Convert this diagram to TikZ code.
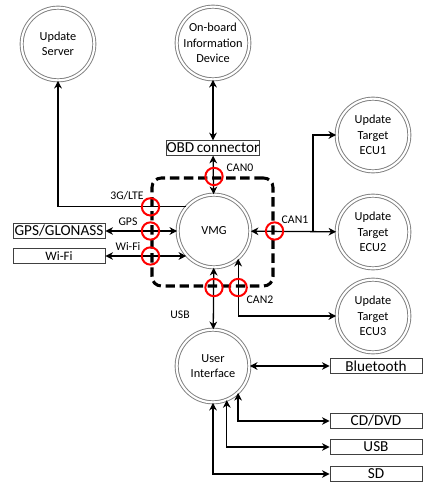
\documentclass[tikz,border=0pt]{standalone}
\usepackage{fontspec}
\setmainfont{Carlito}
\usetikzlibrary{arrows.meta,positioning,calc}
\definecolor{Ring}{HTML}{7F7F7F}
\definecolor{Tap}{HTML}{FF0000}

\begin{document}
\begin{tikzpicture}[x=0.03cm,y=-0.03cm,
  unit/.style={circle,draw=Ring,double=white,double distance=1.8pt,line width=0.8pt,
    minimum size=2.18cm,inner sep=0pt,align=center,font=\fontsize{10.5}{13}\selectfont},
  port/.style={draw=black!75,line width=0.6pt,minimum width=2.76cm,minimum height=0.44cm,
    inner sep=0pt,font=\fontsize{13}{14}\selectfont},
  gate/.style={draw,line width=2.6pt,dash pattern=on 8pt off 4pt,rounded corners=8pt,
    minimum width=3.63cm,minimum height=3.24cm},
  tap/.style={circle,draw=Tap,line width=1.7pt,minimum size=0.52cm,inner sep=0pt},
  lbl/.style={inner sep=1pt,font=\fontsize{10}{11}\selectfont},
  link/.style={line width=1.1pt,>={Stealth[length=6.5pt,width=6.5pt,inset=2pt]}}]
  \useasboundingbox (0,0) rectangle (423,483);

  \node[gate] (gw) at (212.5,232) {};

  \node[unit] (server) at (58,44) {Update\\Server};
  \node[unit] (device) at (213,43) {On-board\\Information\\Device};
  \node[unit] (vmg) at (214,231) {VMG};
  \node[unit] (ecu1) at (373,135) {Update\\Target\\ECU1};
  \node[unit] (ecu2) at (373,232) {Update\\Target\\ECU2};
  \node[unit] (ecu3) at (373,316) {Update\\Target\\ECU3};
  \node[unit] (ui) at (213,366) {User\\Interface};

  \node[port,minimum width=2.8cm] (obd) at (213,148) {OBD\,connector};
  \node[port] (gps) at (59,231) {GPS/GLONASS};
  \node[port,font=\fontsize{11}{12}\selectfont] (wifi) at (59,256) {Wi-Fi};
  \node[port] (bt) at (376,366) {Bluetooth};
  \node[port] (cd) at (376,421) {CD/DVD};
  \node[port] (usb) at (376,447) {USB};
  \node[port] (sd) at (376,474) {SD};

  \coordinate (j1) at (313,232);

  \draw[link,<->] (device) -- (obd);
  \draw[link,<->] (obd) -- (vmg);
  \draw[link,->] (vmg.139) -| (server);
  \draw[link,<->] (gps) -- (vmg);
  \draw[link,<->] (wifi.east) -- (wifi.east -| vmg.221);
  \draw[link,<->] (vmg) -- (ecu2);
  \draw[link,->] (j1) |- (ecu1);
  \draw[link,<->] (vmg.311) |- (ecu3);
  \draw[link,<->] (vmg) -- (ui);
  \draw[link,<->] (ui) -- (bt);
  \draw[link,<->] (ui.313) |- (cd);
  \draw[link,<->] (ui.292) |- (usb);
  \draw[link,<->] (ui.south) |- (sd);

  \node[tap] (t0) at (vmg.north |- gw.north) {};
  \node[tap] (t1) at (gw.west |- vmg.139) {};
  \node[tap] (t2) at (gw.west |- vmg.west) {};
  \node[tap] (t3) at (gw.west |- wifi.east) {};
  \node[tap] (t4) at (gw.east |- vmg.east) {};
  \node[tap] (t5) at (vmg.south |- gw.south) {};
  \node[tap] (t6) at (vmg.311 |- gw.south) {};

  \node[lbl] (l0) at (240,168) {CAN0};
  \node[lbl] (l1) at (127,196) {3G/LTE};
  \node[lbl] (l2) at (128,222) {GPS};
  \node[lbl] (l3) at (128,246) {Wi-Fi};
  \node[lbl] (l4) at (295,220) {CAN1};
  \node[lbl] (l5) at (260,300) {CAN2};
  \node[lbl] (l6) at (180,315) {USB};
\end{tikzpicture}
\end{document}
